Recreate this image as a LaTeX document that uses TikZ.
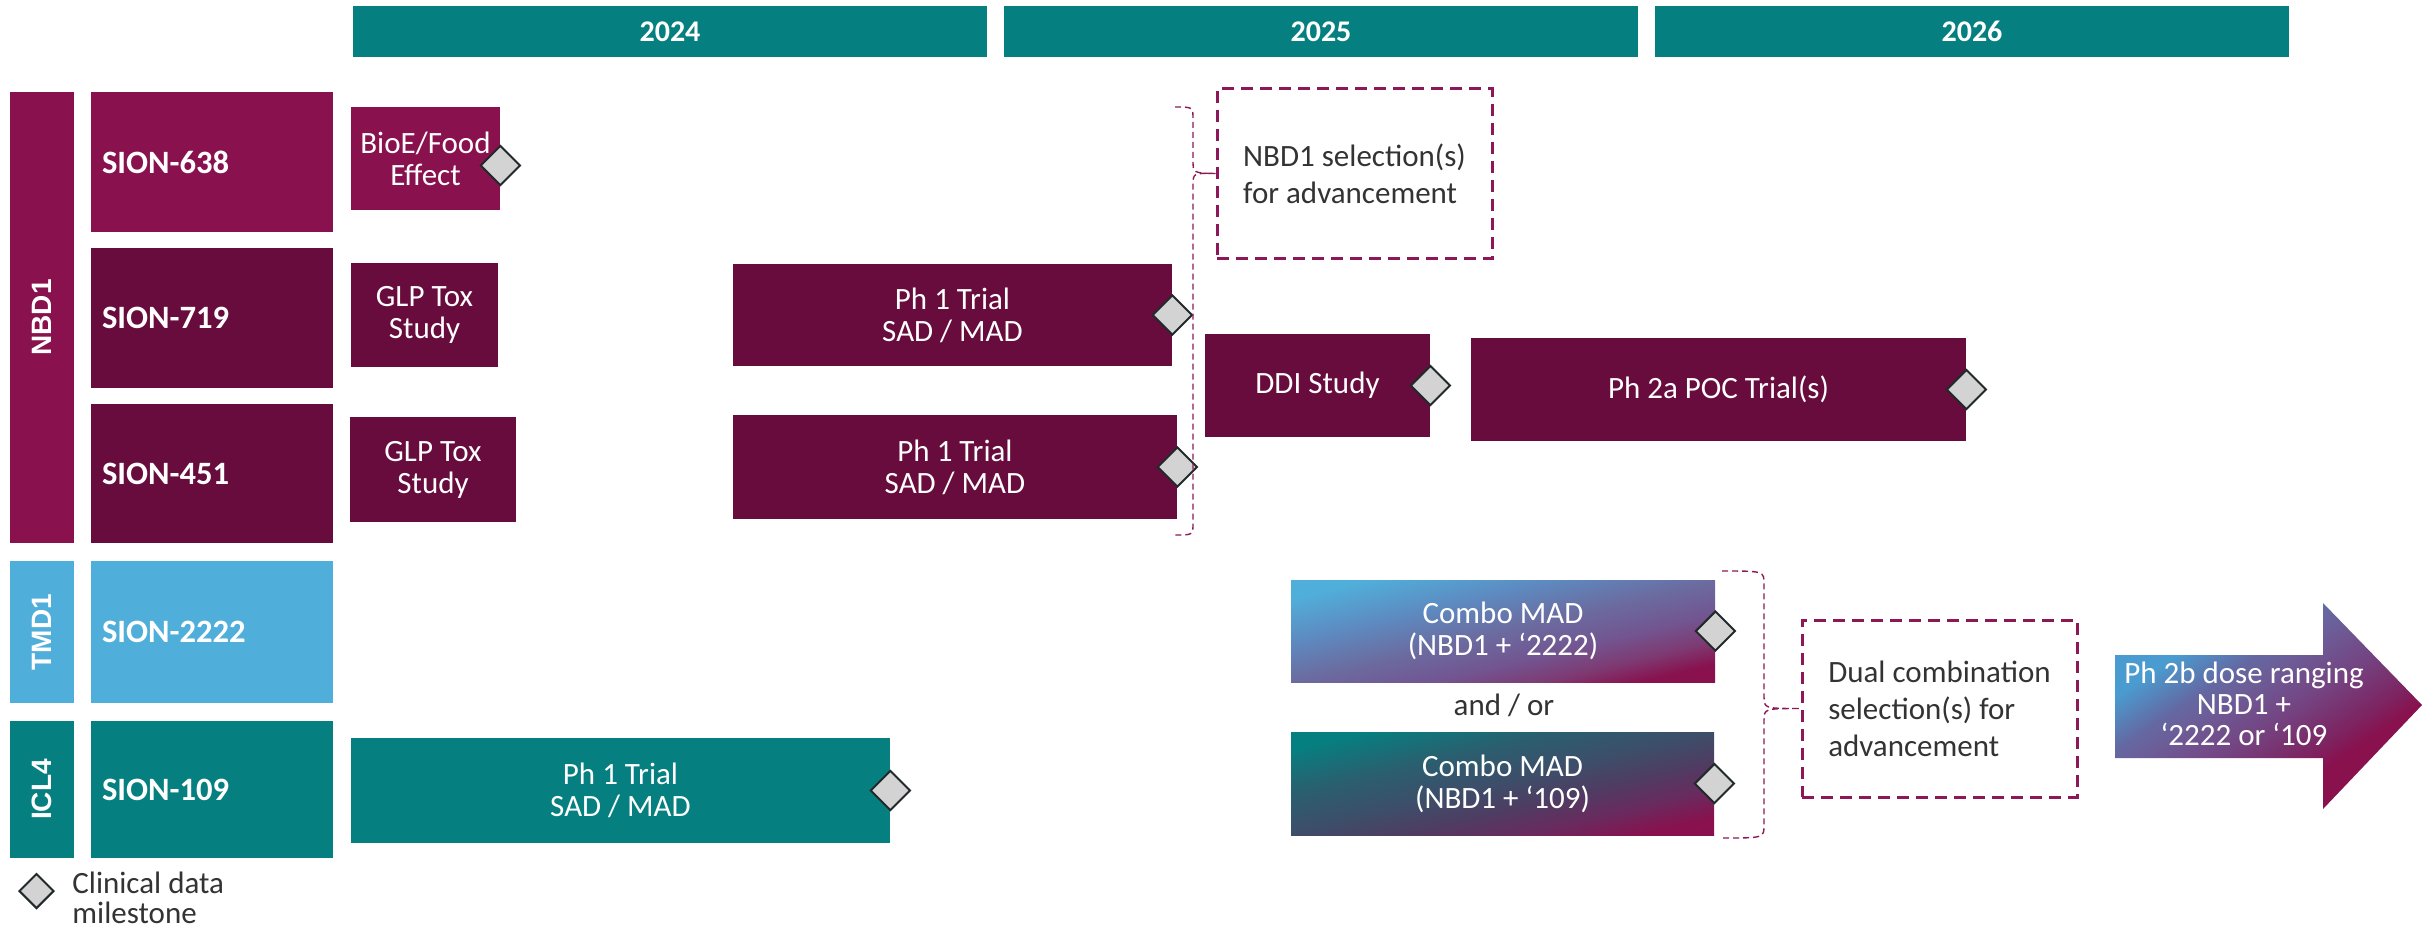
\documentclass[tikz,border=0pt]{standalone}
\usepackage{fontspec}
\setmainfont{Carlito}
\newfontfamily\grpfont{Liberation Sans}
\usepackage{tikz}
\usetikzlibrary{shapes.geometric}

\definecolor{tealbar}{HTML}{067F80}
\definecolor{nbdmag}{HTML}{88114E}
\definecolor{nbddark}{HTML}{670C3C}
\definecolor{tmdblue}{HTML}{50AFDA}
\definecolor{msgray}{HTML}{D3D3D3}
\definecolor{msline}{HTML}{22292A}
\definecolor{dashmag}{HTML}{8C1858}
\definecolor{txtgray}{HTML}{333333}

\pgfdeclareverticalshading{blueplum}{100bp}{color(0bp)=(nbdmag); color(25bp)=(nbdmag);
  color(32bp)=(rgb,255:red,126;green,58;blue,114); color(40bp)=(rgb,255:red,114;green,85;blue,145);
  color(50bp)=(rgb,255:red,107;green,107;blue,159); color(62bp)=(rgb,255:red,93;green,139;blue,193);
  color(75bp)=(tmdblue); color(100bp)=(tmdblue)}
\pgfdeclareverticalshading{tealplum}{100bp}{color(0bp)=(nbdmag); color(25bp)=(nbdmag);
  color(33bp)=(rgb,255:red,106;green,42;blue,94); color(42bp)=(rgb,255:red,78;green,61;blue,99);
  color(50bp)=(rgb,255:red,62;green,77;blue,105); color(62bp)=(rgb,255:red,42;green,95;blue,111);
  color(75bp)=(tealbar); color(100bp)=(tealbar)}
\pgfdeclareverticalshading{arrowplum}{100bp}{color(0bp)=(nbdmag); color(33bp)=(nbdmag);
  color(38bp)=(rgb,255:red,124;green,38;blue,99); color(47bp)=(rgb,255:red,116;green,68;blue,130);
  color(56bp)=(rgb,255:red,108;green,94;blue,152); color(60bp)=(rgb,255:red,100;green,104;blue,162);
  color(69bp)=(rgb,255:red,74;green,155;blue,207); color(100bp)=(rgb,255:red,74;green,155;blue,207)}

\begin{document}
\begin{tikzpicture}[x=0.5pt,y=-0.5pt,
  yearbar/.style={rectangle,fill=tealbar,text=white,inner sep=0pt,minimum width=317pt,minimum height=25.5pt,font=\fontsize{15}{15}\selectfont\bfseries},
  grpbar/.style={rectangle,inner sep=0pt,minimum width=32pt,text=white,font=\fontsize{14}{14}\selectfont\grpfont\bfseries},
  sionbox/.style={rectangle,inner xsep=5.5pt,inner ysep=0pt,text width=110pt,align=left,text=white,font=\fontsize{16.3}{16.3}\selectfont\bfseries},
  taskbox/.style={rectangle,fill=nbddark,inner sep=0pt,text=white,align=center,font=\fontsize{15.5}{16}\selectfont},
  milestone/.style={diamond,draw=msline,line width=1pt,fill=msgray,inner sep=0pt,minimum width=20pt,minimum height=20pt},
  selbox/.style={rectangle,draw=dashmag,line width=1.5pt,dash pattern=on 6pt off 3.5pt,inner sep=0pt,text=txtgray,align=left,font=\fontsize{15.5}{18.5}\selectfont},
  bracket/.style={draw=dashmag,line width=0.7pt,dash pattern=on 3pt off 2pt}]
  \useasboundingbox (0,0) rectangle (2422,933);

  % years
  \foreach \yr/\cx in {2024/670,2025/1321,2026/1972}
    \node[yearbar] (year\yr) at (\cx,31.5) {\yr};

  % programmes
  \node[grpbar,fill=nbdmag,minimum height=225.5pt] (nbd1) at (42,317.5) {\rotatebox{90}{NBD1}};
  \node[grpbar,fill=tmdblue,minimum height=71pt] (tmd1) at (42,632) {\rotatebox{90}{TMD1}};
  \node[grpbar,fill=tealbar,minimum height=68.5pt] (icl4) at (42,789.5) {\rotatebox{90}{ICL4}};

  \foreach \nm/\cy/\bh/\col in {638/162/70/nbdmag,719/318/70/nbddark,451/473.5/69.5/nbddark,2222/632/71/tmdblue,109/789.5/68.5/tealbar}
    \node[sionbox,fill=\col,minimum height=\bh pt] (sion\nm) at (212,\cy) {SION-\nm};

  % studies
  \node[taskbox,fill=nbdmag,minimum width=74.5pt,minimum height=51.5pt] (bioe) at (425.5,158.5) {BioE/Food\\Effect};
  \node[taskbox,minimum width=73.5pt,minimum height=52pt] (glpa) at (424.5,315) {GLP Tox\\Study};
  \node[taskbox,minimum width=83pt,minimum height=52.5pt] (glpb) at (433,469.5) {GLP Tox\\Study};
  \node[taskbox,minimum width=219.5pt,minimum height=51pt] (pha) at (952.5,315) {Ph 1 Trial\\SAD / MAD};
  \node[taskbox,minimum width=222pt,minimum height=52pt] (phb) at (955,467) {Ph 1 Trial\\SAD / MAD};
  \node[taskbox,minimum width=112.5pt,minimum height=51.5pt] (ddi) at (1317.5,385.5) {DDI Study};
  \node[taskbox,minimum width=247.5pt,minimum height=51.5pt] (poc) at (1718.5,389.5) {Ph 2a POC Trial(s)};
  \node[taskbox,fill=tealbar,minimum width=269.5pt,minimum height=52.5pt] (phc) at (620.5,790.5) {Ph 1 Trial\\SAD / MAD};

  \node[taskbox,minimum width=212pt,minimum height=51pt,shade,shading=blueplum,shading angle=13.5] (combob) at (1503,631) {Combo MAD\\(NBD1 + `2222)};
  \node[text=txtgray,font=\fontsize{15.5}{16}\selectfont,inner sep=0pt] (andor) at (1504,705) {and / or};
  \node[taskbox,minimum width=211.5pt,minimum height=51.5pt,shade,shading=tealplum,shading angle=13.5] (comboc) at (1502.5,783.5) {Combo MAD\\(NBD1 + `109)};

  % milestones
  \node[milestone] (msbioe) at ([yshift=-3.5pt]bioe.east) {};
  \foreach \nd in {pha,phb,ddi,poc,phc,combob,comboc}
    \node[milestone] (ms\nd) at (\nd.east) {};

  % decisions
  \node[selbox,minimum width=137.5pt,minimum height=85pt] (nbdsel) at (1354.5,173.5) {NBD1 selection(s)\\for advancement};
  \node[selbox,minimum width=137.5pt,minimum height=88.5pt] (dualsel) at (1939.5,708.5) {Dual combination\\selection(s) for\\advancement};

  \draw[bracket] (1175,107) .. controls (1193,107) .. (1193,119) -- (1193,160)
    .. controls (1193,173) .. (nbdsel.west) .. controls (1193,173) .. (1193,186)
    -- (1193,523) .. controls (1193,535) .. (1175,535);
  \draw[bracket] (1722,571) .. controls (1764,571) .. (1764,584) -- (1764,696)
    .. controls (1764,708.5) .. (dualsel.west) .. controls (1764,708.5) .. (1764,721)
    -- (1764,825) .. controls (1764,838) .. (1722,838);

  % phase 2b arrow
  \shade[shading=arrowplum,shading angle=33.9]
    (2115,655) -- (2323,655) -- (2323,603) -- (2422,705) -- (2323,809) -- (2323,758) -- (2115,758) -- cycle;
  \node[text=white,align=center,font=\fontsize{15.5}{15.5}\selectfont,inner sep=0pt] (ph2b) at (2244,704) {Ph 2b dose ranging\\NBD1 +\\`2222 or `109};

  % legend
  \node[milestone,minimum width=17.5pt,minimum height=17.5pt] (legms) at (36.5,891) {};
  \node[anchor=west,align=left,text=txtgray,font=\fontsize{15.5}{15}\selectfont,inner sep=0pt] (legtxt) at (72,898) {Clinical data\\milestone};
\end{tikzpicture}
\end{document}
